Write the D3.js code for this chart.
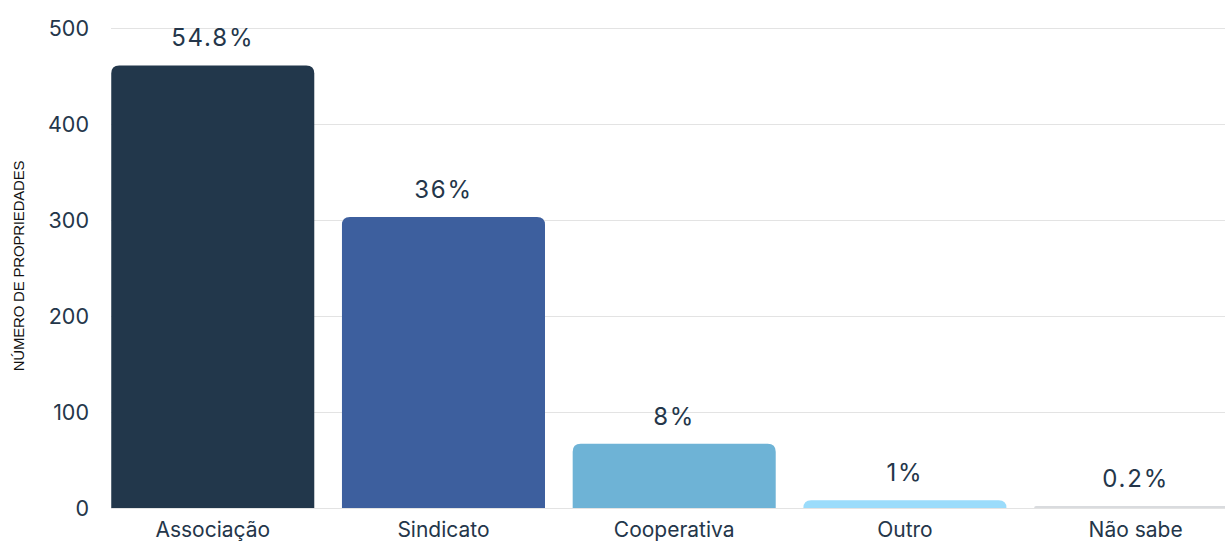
<!DOCTYPE html>
<html lang="pt">
<head>
<meta charset="utf-8">
<title>Número de propriedades</title>
<script src="https://cdn.jsdelivr.net/npm/d3@7"></script>
<style>
  body { margin: 0; background: #fff; }
  svg { display: block; }
</style>
</head>
<body>
<script>
var width = 1225;
var height = 542;

var categories = ["Associação", "Sindicato", "Cooperativa", "Outro", "Não sabe"];
var values = [461, 303, 67, 8, 2];
var labels = ["54.8%", "36%", "8%", "1%", "0.2%"];
var colors = ["#22374b", "#3d5f9e", "#6eb3d6", "#9bdcfb", "#d9dbde"];
var yTicks = [0, 100, 200, 300, 400, 500];

var textColor = "#24364a";

var svg = d3.select("body").append("svg")
            .attr("width", width)
            .attr("height", height);

var x = d3.scaleBand()
          .domain(categories)
          .range([97.4, 1251])
          .paddingInner(0.12)
          .paddingOuter(0.06);

var y = d3.scaleLinear()
          .domain([0, 500])
          .range([508, 28]);

// grid lines
svg.append("g")
   .selectAll("line")
   .data(yTicks)
   .enter()
   .append("line")
   .attr("x1", 111)
   .attr("x2", width)
   .attr("y1", function(d) { return Math.round(y(d)) + 0.5; })
   .attr("y2", function(d) { return Math.round(y(d)) + 0.5; })
   .attr("stroke", "#e3e3e3")
   .attr("stroke-width", 1);

// y tick labels
svg.append("g")
   .selectAll("text")
   .data(yTicks)
   .enter()
   .append("text")
   .attr("x", 89)
   .attr("y", function(d) { return y(d); })
   .attr("dy", "0.35em")
   .attr("text-anchor", "end")
   .attr("font-family", "Inter, 'Liberation Sans', sans-serif")
   .attr("font-size", 21.5)
   .attr("fill", textColor)
   .text(function(d) { return d; });

// y axis title
svg.append("text")
   .attr("transform", "translate(24," + 266 + ") rotate(-90)")
   .attr("text-anchor", "middle")
   .attr("font-family", "'Liberation Sans', Arial, sans-serif")
   .attr("font-size", 15)
   .attr("letter-spacing", -0.2)
   .attr("fill", "#111")
   .text("NÚMERO DE PROPRIEDADES");

// bars with rounded tops
var r = 8;
function barPath(d, i) {
  var x0 = x(categories[i]);
  var x1 = x0 + x.bandwidth();
  var y0 = y(0);
  var y1 = y(d);
  var rr = Math.min(r, (y0 - y1));
  return "M" + x0 + "," + y0 +
         "L" + x0 + "," + (y1 + rr) +
         "Q" + x0 + "," + y1 + " " + (x0 + rr) + "," + y1 +
         "L" + (x1 - rr) + "," + y1 +
         "Q" + x1 + "," + y1 + " " + x1 + "," + (y1 + rr) +
         "L" + x1 + "," + y0 + "Z";
}

svg.append("g")
   .selectAll("path")
   .data(values)
   .enter()
   .append("path")
   .attr("d", barPath)
   .attr("fill", function(d, i) { return colors[i]; });

// value labels
svg.append("g")
   .selectAll("text")
   .data(values)
   .enter()
   .append("text")
   .attr("x", function(d, i) { return x(categories[i]) + x.bandwidth() / 2; })
   .attr("y", function(d) { return y(d) - 19; })
   .attr("text-anchor", "middle")
   .attr("font-family", "Inter, 'Liberation Sans', sans-serif")
   .attr("font-size", 24)
   .attr("letter-spacing", 1.8)
   .attr("fill", textColor)
   .text(function(d, i) { return labels[i]; });

// category labels
svg.append("g")
   .selectAll("text")
   .data(categories)
   .enter()
   .append("text")
   .attr("x", function(d) { return x(d) + x.bandwidth() / 2; })
   .attr("y", 537)
   .attr("text-anchor", "middle")
   .attr("font-family", "Inter, 'Liberation Sans', sans-serif")
   .attr("font-size", 21)
   .attr("fill", textColor)
   .text(function(d) { return d; });
</script>
</body>
</html>
